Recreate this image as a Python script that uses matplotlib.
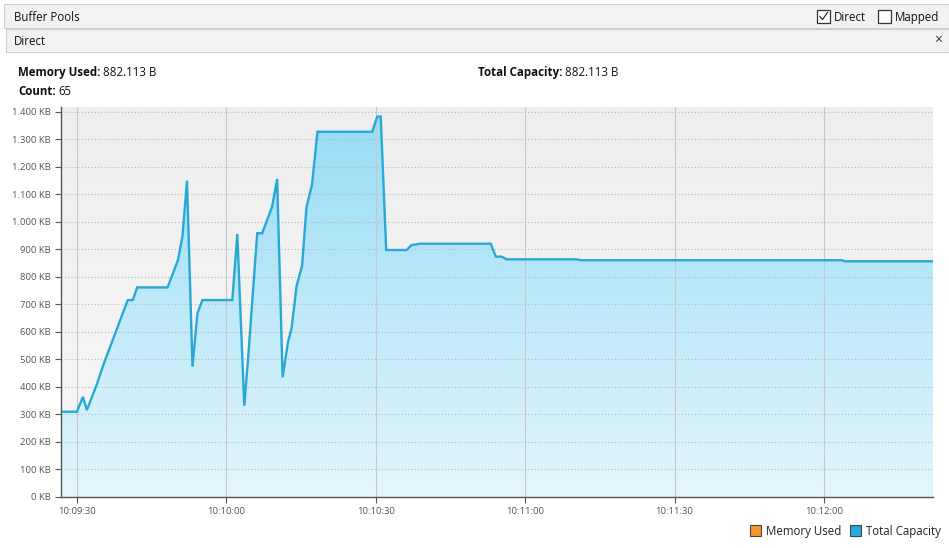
import matplotlib.pyplot as plt
import matplotlib.patches as mpatches
import matplotlib.ticker as mticker
import numpy as np

plt.rcParams['font.family'] = ['Open Sans', 'DejaVu Sans']

# seconds after 10:09:30, total capacity in KB
secs = [-3.2, 0.0, 1.2, 2.0, 4.0, 5.3, 10.2, 11.2, 12.1, 18.2, 20.3, 21.2, 22.1,
        23.2, 24.2, 25.2, 31.2, 32.2, 33.6, 34.4, 36.2, 37.2, 39.2, 40.2, 41.3,
        42.4, 43.1, 44.1, 45.2, 46.1, 47.2, 48.3, 59.3, 60.3, 61.0, 62.1, 66.2,
        67.2, 68.9, 83.1, 84.1, 85.3, 86.3, 100.3, 101.3, 153.6, 154.2, 171.9]
capacity_kb = [310, 310, 364, 316, 410, 480, 716, 716, 762, 762, 862, 949, 1150,
               474, 668, 716, 716, 956, 332, 510, 959, 959, 1056, 1156, 435,
               565, 613, 767, 840, 1055, 1135, 1328, 1328, 1383, 1383, 898, 898,
               916, 921, 921, 874, 874, 864, 864, 861, 861, 857, 857]
x_ticks = [0, 30, 60, 90, 120, 150]
x_labels = ['10:09:30', '10:10:00', '10:10:30', '10:11:00', '10:11:30', '10:12:00']
y_ticks = list(range(0, 1500, 100))

W, H = 949, 548
fig = plt.figure(figsize=(W / 100, H / 100), dpi=100)
fig.patch.set_facecolor('white')
FS = 8.3


def px(x, y):
    return x / W, 1 - y / H


# header strips
for top, bot, left in [(4, 28, 4), (29, 52, 6)]:
    fig.patches.append(mpatches.Rectangle(px(left, bot), (W - left) / W, (bot - top) / H,
                                          transform=fig.transFigure, facecolor='#f2f2f2',
                                          edgecolor='#cfcfcf', lw=0.8))
fig.text(*px(14, 21), 'Buffer Pools', fontsize=FS, va='baseline', color='#111111')
fig.text(*px(14, 45), 'Direct', fontsize=FS, va='baseline', color='#111111')
fig.text(*px(938, 40), '×', fontsize=10, va='center', ha='center', color='#333333')

# checkboxes
for bx, label, checked in [(817, 'Direct', True), (878, 'Mapped', False)]:
    fig.patches.append(mpatches.Rectangle(px(bx, 23), 13 / W, 13 / H, transform=fig.transFigure,
                                          facecolor='white', edgecolor='#333333', lw=0.9))
    if checked:
        fig.lines.append(plt.Line2D([(bx + 3) / W, (bx + 5.5) / W, (bx + 10.5) / W],
                                    [1 - 16.5 / H, 1 - 19.5 / H, 1 - 12.5 / H],
                                    transform=fig.transFigure, color='#333333', lw=0.9))
    fig.text(*px(bx + 17, 21), label, fontsize=FS, va='baseline', color='#111111')

# chart
ax = fig.add_axes([61 / W, (H - 497) / H, (933 - 61) / W, (497 - 107) / H])

# summary texts: bold label followed by value
for x, y, label, value in [(18, 76, 'Memory Used:', '882.113 B'),
                           (478, 76, 'Total Capacity:', '882.113 B'),
                           (18, 95, 'Count:', '65')]:
    t = fig.text(*px(x, y), label, fontsize=FS, fontweight='bold', va='baseline', color='#111111')
    ax.annotate(value, xy=(1, 0), xycoords=t, xytext=(2, 0), textcoords='offset points',
                fontsize=FS, va='bottom', color='#111111', annotation_clip=False)

xmin, xmax = secs[0], secs[-1]
ymin, ymax = 0, 1418
ax.set_xlim(xmin, xmax)
ax.set_ylim(ymin, ymax)
ax.set_facecolor('none')

bg = np.linspace(0, 1, 256).reshape(-1, 1)
ax.imshow(bg, extent=[xmin, xmax, ymin, ymax], aspect='auto', origin='upper',
          cmap=plt.matplotlib.colors.LinearSegmentedColormap.from_list('bg', ['#eeeeee', '#f8f8f8']),
          zorder=0)

poly = ax.fill_between(secs, capacity_kb, 0, color='none', lw=0)
grad = ax.imshow(bg, extent=[xmin, xmax, ymin, 1400], aspect='auto', origin='upper',
                 cmap=plt.matplotlib.colors.LinearSegmentedColormap.from_list('fl', ['#97dcf4', '#e3f6fd']),
                 zorder=1)
grad.set_clip_path(poly.get_paths()[0], transform=ax.transData)

ax.plot(secs, capacity_kb, color='#27a8d5', lw=1.7, zorder=3, solid_joinstyle='miter')

ax.set_xticks(x_ticks)
ax.set_xticklabels(x_labels)
ax.set_yticks(y_ticks)
ax.yaxis.set_major_formatter(mticker.FuncFormatter(
    lambda v, p: '{:,}'.format(int(v)).replace(',', '.') + ' KB'))
ax.tick_params(axis='both', labelsize=6.8, labelcolor='#555555', color='#555555', length=4, width=0.8)
ax.set_axisbelow(False)
ax.yaxis.grid(True, ls=(0, (1, 2)), color='#b8b8b8', lw=0.8)
ax.xaxis.grid(True, ls='-', color='#c8c8c8', lw=0.8)
for s in ['top', 'right']:
    ax.spines[s].set_visible(False)
for s in ['left', 'bottom']:
    ax.spines[s].set_color('#555555')
    ax.spines[s].set_linewidth(1.0)
    ax.spines[s].set_zorder(4)

# legend
for lx, label, col in [(750, 'Memory Used', '#f29a2e'), (850, 'Total Capacity', '#26a9dc')]:
    fig.patches.append(mpatches.Rectangle(px(lx, 536), 11 / W, 11 / H, transform=fig.transFigure,
                                          facecolor=col, edgecolor='#444444', lw=0.8))
    fig.text(*px(lx + 16, 535), label, fontsize=FS, va='baseline', color='#222222')

fig.savefig('out.png', dpi=100)
